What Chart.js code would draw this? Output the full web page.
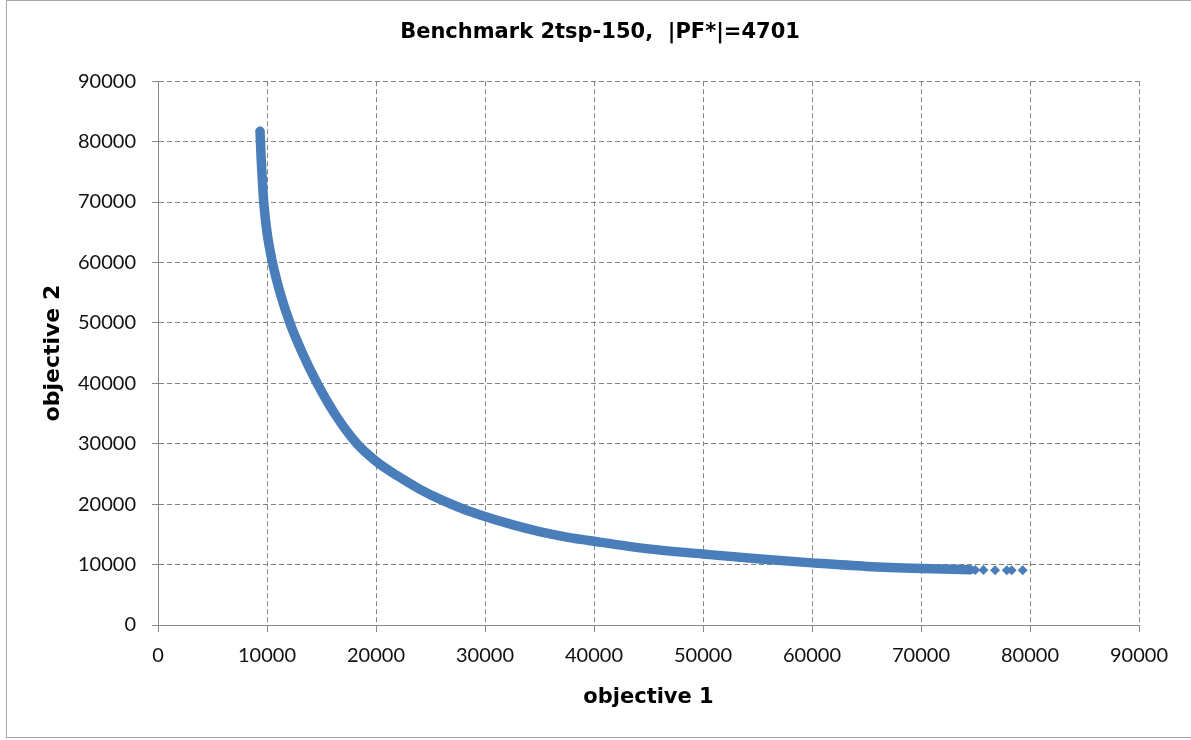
<!DOCTYPE html>
<html>
<head>
<meta charset="utf-8">
<script src="https://cdn.jsdelivr.net/npm/chart.js@4.4.1/dist/chart.umd.min.js"></script>
<style>
html,body{margin:0;padding:0;background:#fff;overflow:hidden}
#wrap{position:relative;width:1191px;height:740px}
</style>
</head>
<body>
<div id="wrap"><canvas id="c" width="1191" height="740"></canvas></div>
<script>
const titleText = 'Benchmark 2tsp-150,  |PF*|=4701';
const xAxisTitle = 'objective 1';
const yAxisTitle = 'objective 2';
const tickValues = [0, 10000, 20000, 30000, 40000, 50000, 60000, 70000, 80000, 90000];

// dense Pareto front
const frontX = [9360, 9400, 9470, 9560, 9700, 10000, 10500, 11200, 12100, 13250, 14600, 16200, 18250, 20000, 22000, 24000, 26000, 28000, 30000, 32500, 35000, 37500, 40000, 45000, 50000, 55000, 60000, 65000, 70000, 74500];
const frontY = [81700, 80000, 77000, 74000, 70000, 65000, 60000, 55000, 50000, 45000, 40000, 35000, 30000, 27100, 24650, 22500, 20700, 19200, 17950, 16600, 15450, 14550, 13850, 12600, 11750, 10950, 10280, 9700, 9350, 9150];

// isolated points at the ends of the front
const endX = [9360, 74970, 75730, 76800, 77870, 78320, 79330];
const endY = [81700, 9100, 9090, 9080, 9070, 9070, 9060];

const blue = '#4a7ebb';
const gridGray = '#848484';
const tickFont = 'Lato, "Open Sans", sans-serif';
const boldFont = '"DejaVu Sans", Lato, sans-serif';

const frontData = frontX.map((x, i) => ({x: x, y: frontY[i]}));
const endData = endX.map((x, i) => ({x: x, y: endY[i]}));

const framePlugin = {
  id: 'frame',
  beforeDraw(chart) {
    const ctx = chart.ctx;
    ctx.save();
    ctx.fillStyle = '#fff';
    ctx.fillRect(0, 0, chart.width, chart.height);
    ctx.strokeStyle = '#a6a6a6';
    ctx.lineWidth = 1;
    ctx.strokeRect(6.5, 0.5, 1200, 737);
    ctx.restore();
  }
};

function axis(titleTextValue, isX) {
  return {
    type: 'linear',
    min: 0,
    max: 90000,
    afterBuildTicks(scale) { scale.ticks = tickValues.map(v => ({value: v})); },
    afterFit(scale) {
      if (isX) scale.height = 115; else scale.width = 97;
    },
    border: {display: true, color: '#868686', width: 1, dash: [5, 3]},
    grid: {
      color: gridGray,
      lineWidth: 1,
      drawTicks: true,
      tickLength: isX ? 7 : 6,
      tickBorderDash: [],
      tickColor: '#868686'
    },
    ticks: {
      color: '#111',
      font: {family: tickFont, size: 20},
      padding: isX ? 12 : 16,
      maxRotation: 0,
      autoSkip: false,
      callback: v => String(v)
    },
    title: {
      display: true,
      text: titleTextValue,
      color: '#000',
      font: {family: boldFont, size: isX ? 21 : 22, weight: 'bold'},
      padding: isX ? {top: 0, bottom: 30} : {top: -21, bottom: 0}
    }
  };
}

new Chart(document.getElementById('c'), {
  type: 'scatter',
  data: {
    datasets: [
      {
        label: 'front',
        data: frontData,
        showLine: true,
        borderColor: blue,
        backgroundColor: blue,
        borderWidth: 9.5,
        borderCapStyle: 'round',
        borderJoinStyle: 'round',
        cubicInterpolationMode: 'monotone',
        pointRadius: 0,
        pointHoverRadius: 0
      },
      {
        label: 'ends',
        data: endData,
        showLine: false,
        pointStyle: 'rectRot',
        pointRadius: 5,
        borderWidth: 0,
        backgroundColor: blue,
        borderColor: blue
      }
    ]
  },
  options: {
    responsive: false,
    animation: false,
    devicePixelRatio: 1,
    layout: {padding: {left: 61, right: 52, top: 0, bottom: 0}},
    plugins: {
      legend: {display: false},
      tooltip: {enabled: false},
      title: {
        display: true,
        text: titleText,
        color: '#000',
        font: {family: boldFont, size: 21, weight: 'bold'},
        padding: {top: 20, bottom: 36}
      }
    },
    scales: {
      x: axis(xAxisTitle, true),
      y: axis(yAxisTitle, false)
    }
  },
  plugins: [framePlugin]
});
</script>
</body>
</html>
